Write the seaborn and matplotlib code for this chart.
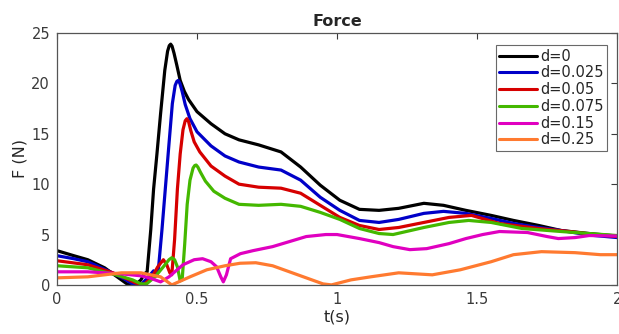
import numpy as np
import pandas as pd
import matplotlib
matplotlib.use("Agg")
import matplotlib.pyplot as plt
import seaborn as sns

labels = ["d=0", "d=0.025", "d=0.05", "d=0.075", "d=0.15", "d=0.25"]
colors = ["#000000", "#0000c8", "#d60000", "#44b800", "#e000c0", "#ff7a30"]

t_d0 = [0, 0.06, 0.11, 0.17, 0.22, 0.25, 0.28, 0.30, 0.312, 0.322, 0.335, 0.345, 0.357, 0.37, 0.385, 0.395,
        0.401, 0.406, 0.411, 0.418, 0.428, 0.44, 0.455, 0.47, 0.5, 0.55, 0.6, 0.65, 0.72, 0.8, 0.87, 0.94,
        1.01, 1.08, 1.15, 1.22, 1.31, 1.38, 1.46, 1.55, 1.63, 1.72, 1.8, 1.9, 2.0]
F_d0 = [3.4, 2.9, 2.5, 1.7, 0.7, 0.1, 0.0, 0.5, 1.1, 1.3, 5.5, 9.5, 13.0, 17.0, 21.3, 23.2,
        23.75, 23.9, 23.7, 23.0, 21.8, 20.3, 19.2, 18.4, 17.2, 16.0, 15.0, 14.4, 13.9, 13.2, 11.7, 9.9,
        8.4, 7.5, 7.4, 7.6, 8.1, 7.9, 7.4, 6.9, 6.4, 5.9, 5.4, 5.1, 4.85]

t_d025 = [0, 0.06, 0.11, 0.19, 0.24, 0.27, 0.3, 0.33, 0.345, 0.355, 0.362, 0.375, 0.39, 0.40, 0.412, 0.422,
          0.428, 0.433, 0.439, 0.447, 0.458, 0.475, 0.5, 0.55, 0.6, 0.65, 0.72, 0.8, 0.87, 0.94, 1.01, 1.08,
          1.15, 1.22, 1.31, 1.38, 1.46, 1.55, 1.63, 1.72, 1.8, 1.9, 2.0]
F_d025 = [2.9, 2.6, 2.3, 1.3, 0.6, 0.1, 0.0, 0.9, 1.4, 0.9, 1.5, 5.5, 10.6, 14.0, 18.0, 19.8,
          20.2, 20.3, 20.0, 19.2, 17.9, 16.5, 15.2, 13.8, 12.8, 12.2, 11.7, 11.4, 10.4, 8.7, 7.4, 6.4,
          6.2, 6.5, 7.1, 7.3, 7.1, 6.6, 6.1, 5.7, 5.4, 4.95, 4.7]

t_d05 = [0, 0.11, 0.2, 0.25, 0.28, 0.31, 0.34, 0.36, 0.38, 0.392, 0.403, 0.41, 0.42, 0.43, 0.44, 0.45,
         0.458, 0.464, 0.47, 0.478, 0.49, 0.51, 0.55, 0.6, 0.65, 0.72, 0.8, 0.87, 0.94, 1.01, 1.08, 1.15,
         1.22, 1.31, 1.4, 1.48, 1.58, 1.72, 1.83, 1.92, 2.0]
F_d05 = [2.4, 2.0, 1.2, 0.6, 0.2, 0.0, 0.8, 1.8, 2.5, 2.0, 1.2, 1.0, 4.5, 9.5, 13.0, 15.4,
         16.3, 16.5, 16.2, 15.3, 14.2, 13.2, 11.8, 10.8, 10.0, 9.7, 9.6, 9.1, 7.9, 6.7, 5.9, 5.5,
         5.7, 6.2, 6.7, 6.9, 6.1, 5.6, 5.3, 5.0, 4.8]

t_d075 = [0, 0.11, 0.21, 0.27, 0.3, 0.32, 0.35, 0.38, 0.40, 0.41, 0.42, 0.43, 0.44, 0.447, 0.456, 0.465,
          0.475, 0.486, 0.492, 0.497, 0.503, 0.512, 0.53, 0.56, 0.6, 0.65, 0.72, 0.8, 0.87, 0.94, 1.01, 1.08,
          1.15, 1.2, 1.31, 1.4, 1.47, 1.55, 1.66, 1.8, 1.9, 2.0]
F_d075 = [1.9, 1.7, 1.0, 0.5, 0.1, 0.1, 0.8, 1.8, 2.5, 2.7, 2.5, 1.8, 0.4, 0.5, 4.0, 8.0,
          10.4, 11.6, 11.85, 11.9, 11.7, 11.2, 10.3, 9.3, 8.6, 8.0, 7.9, 8.0, 7.8, 7.2, 6.5, 5.6,
          5.1, 5.0, 5.7, 6.2, 6.4, 6.2, 5.6, 5.3, 5.1, 4.9]

t_d15 = [0, 0.11, 0.23, 0.3, 0.33, 0.37, 0.4, 0.45, 0.49, 0.52, 0.55, 0.57, 0.585, 0.594, 0.605, 0.62,
         0.655, 0.7, 0.77, 0.83, 0.89, 0.96, 1.0, 1.08, 1.15, 1.2, 1.26, 1.32, 1.4, 1.46, 1.52, 1.58,
         1.68, 1.75, 1.79, 1.85, 1.9, 2.0]
F_d15 = [1.3, 1.3, 1.1, 0.9, 0.7, 0.3, 0.8, 2.0, 2.5, 2.6, 2.3, 1.8, 0.8, 0.3, 1.0, 2.6,
         3.1, 3.4, 3.8, 4.3, 4.8, 5.0, 5.0, 4.6, 4.2, 3.8, 3.5, 3.6, 4.1, 4.6, 5.0, 5.3,
         5.2, 4.8, 4.6, 4.7, 4.9, 4.85]

t_d25 = [0, 0.11, 0.23, 0.3, 0.37, 0.41, 0.475, 0.535, 0.6, 0.654, 0.71, 0.77, 0.83, 0.89, 0.95, 0.98,
         1.05, 1.12, 1.22, 1.34, 1.44, 1.55, 1.63, 1.73, 1.85, 1.94, 2.0]
F_d25 = [0.7, 0.8, 1.2, 1.2, 0.8, 0.0, 0.8, 1.5, 1.9, 2.15, 2.2, 1.9, 1.3, 0.7, 0.1, 0.0,
         0.5, 0.8, 1.2, 1.0, 1.5, 2.3, 3.0, 3.3, 3.2, 3.0, 3.0]

series = [(t_d0, F_d0), (t_d025, F_d025), (t_d05, F_d05), (t_d075, F_d075), (t_d15, F_d15), (t_d25, F_d25)]
frames = []
for lab, (tt, ff) in zip(labels, series):
    frames.append(pd.DataFrame({"t": tt, "F": ff, "d": lab}))
df = pd.concat(frames, ignore_index=True)

sns.set_theme(style="white")
plt.rcParams["font.family"] = ["DejaVu Sans"]

fig = plt.figure(figsize=(6.19, 3.34), dpi=100)
ax = fig.add_axes([0.092, 0.147, 0.905, 0.754])

sns.lineplot(data=df, x="t", y="F", hue="d", hue_order=labels, palette=colors,
             estimator=None, sort=False, linewidth=2.3, ax=ax)
for ln in ax.get_lines():
    ln.set_solid_joinstyle("round")
    ln.set_solid_capstyle("round")

ax.set_xlim(0, 2)
ax.set_ylim(0, 25)
ax.set_xticks([0, 0.5, 1, 1.5, 2])
ax.set_xticklabels(["0", "0.5", "1", "1.5", "2"])
ax.set_yticks([0, 5, 10, 15, 20, 25])
ax.tick_params(direction="in", length=4, width=0.8, colors="#3a3a3a", labelsize=10.5,
               top=True, right=True, pad=5)
for s in ax.spines.values():
    s.set_color("#555555")
    s.set_linewidth(0.9)
ax.set_xlabel("t(s)", fontsize=11.5, color="#262626", labelpad=2)
ax.set_ylabel("F (N)", fontsize=11.5, color="#262626", labelpad=3)
ax.set_title("Force", fontsize=11.5, fontweight="bold", pad=5)

leg = ax.legend(loc="upper right", bbox_to_anchor=(0.99, 0.97), fontsize=10.5, frameon=True,
                fancybox=False, edgecolor="#444444", handlelength=2.6, handletextpad=0.2,
                labelspacing=0.12, borderpad=0.25, borderaxespad=0.3)
leg.get_frame().set_linewidth(0.8)
for line in leg.get_lines():
    line.set_linewidth(2.2)

fig.savefig("out.png", dpi=100)
